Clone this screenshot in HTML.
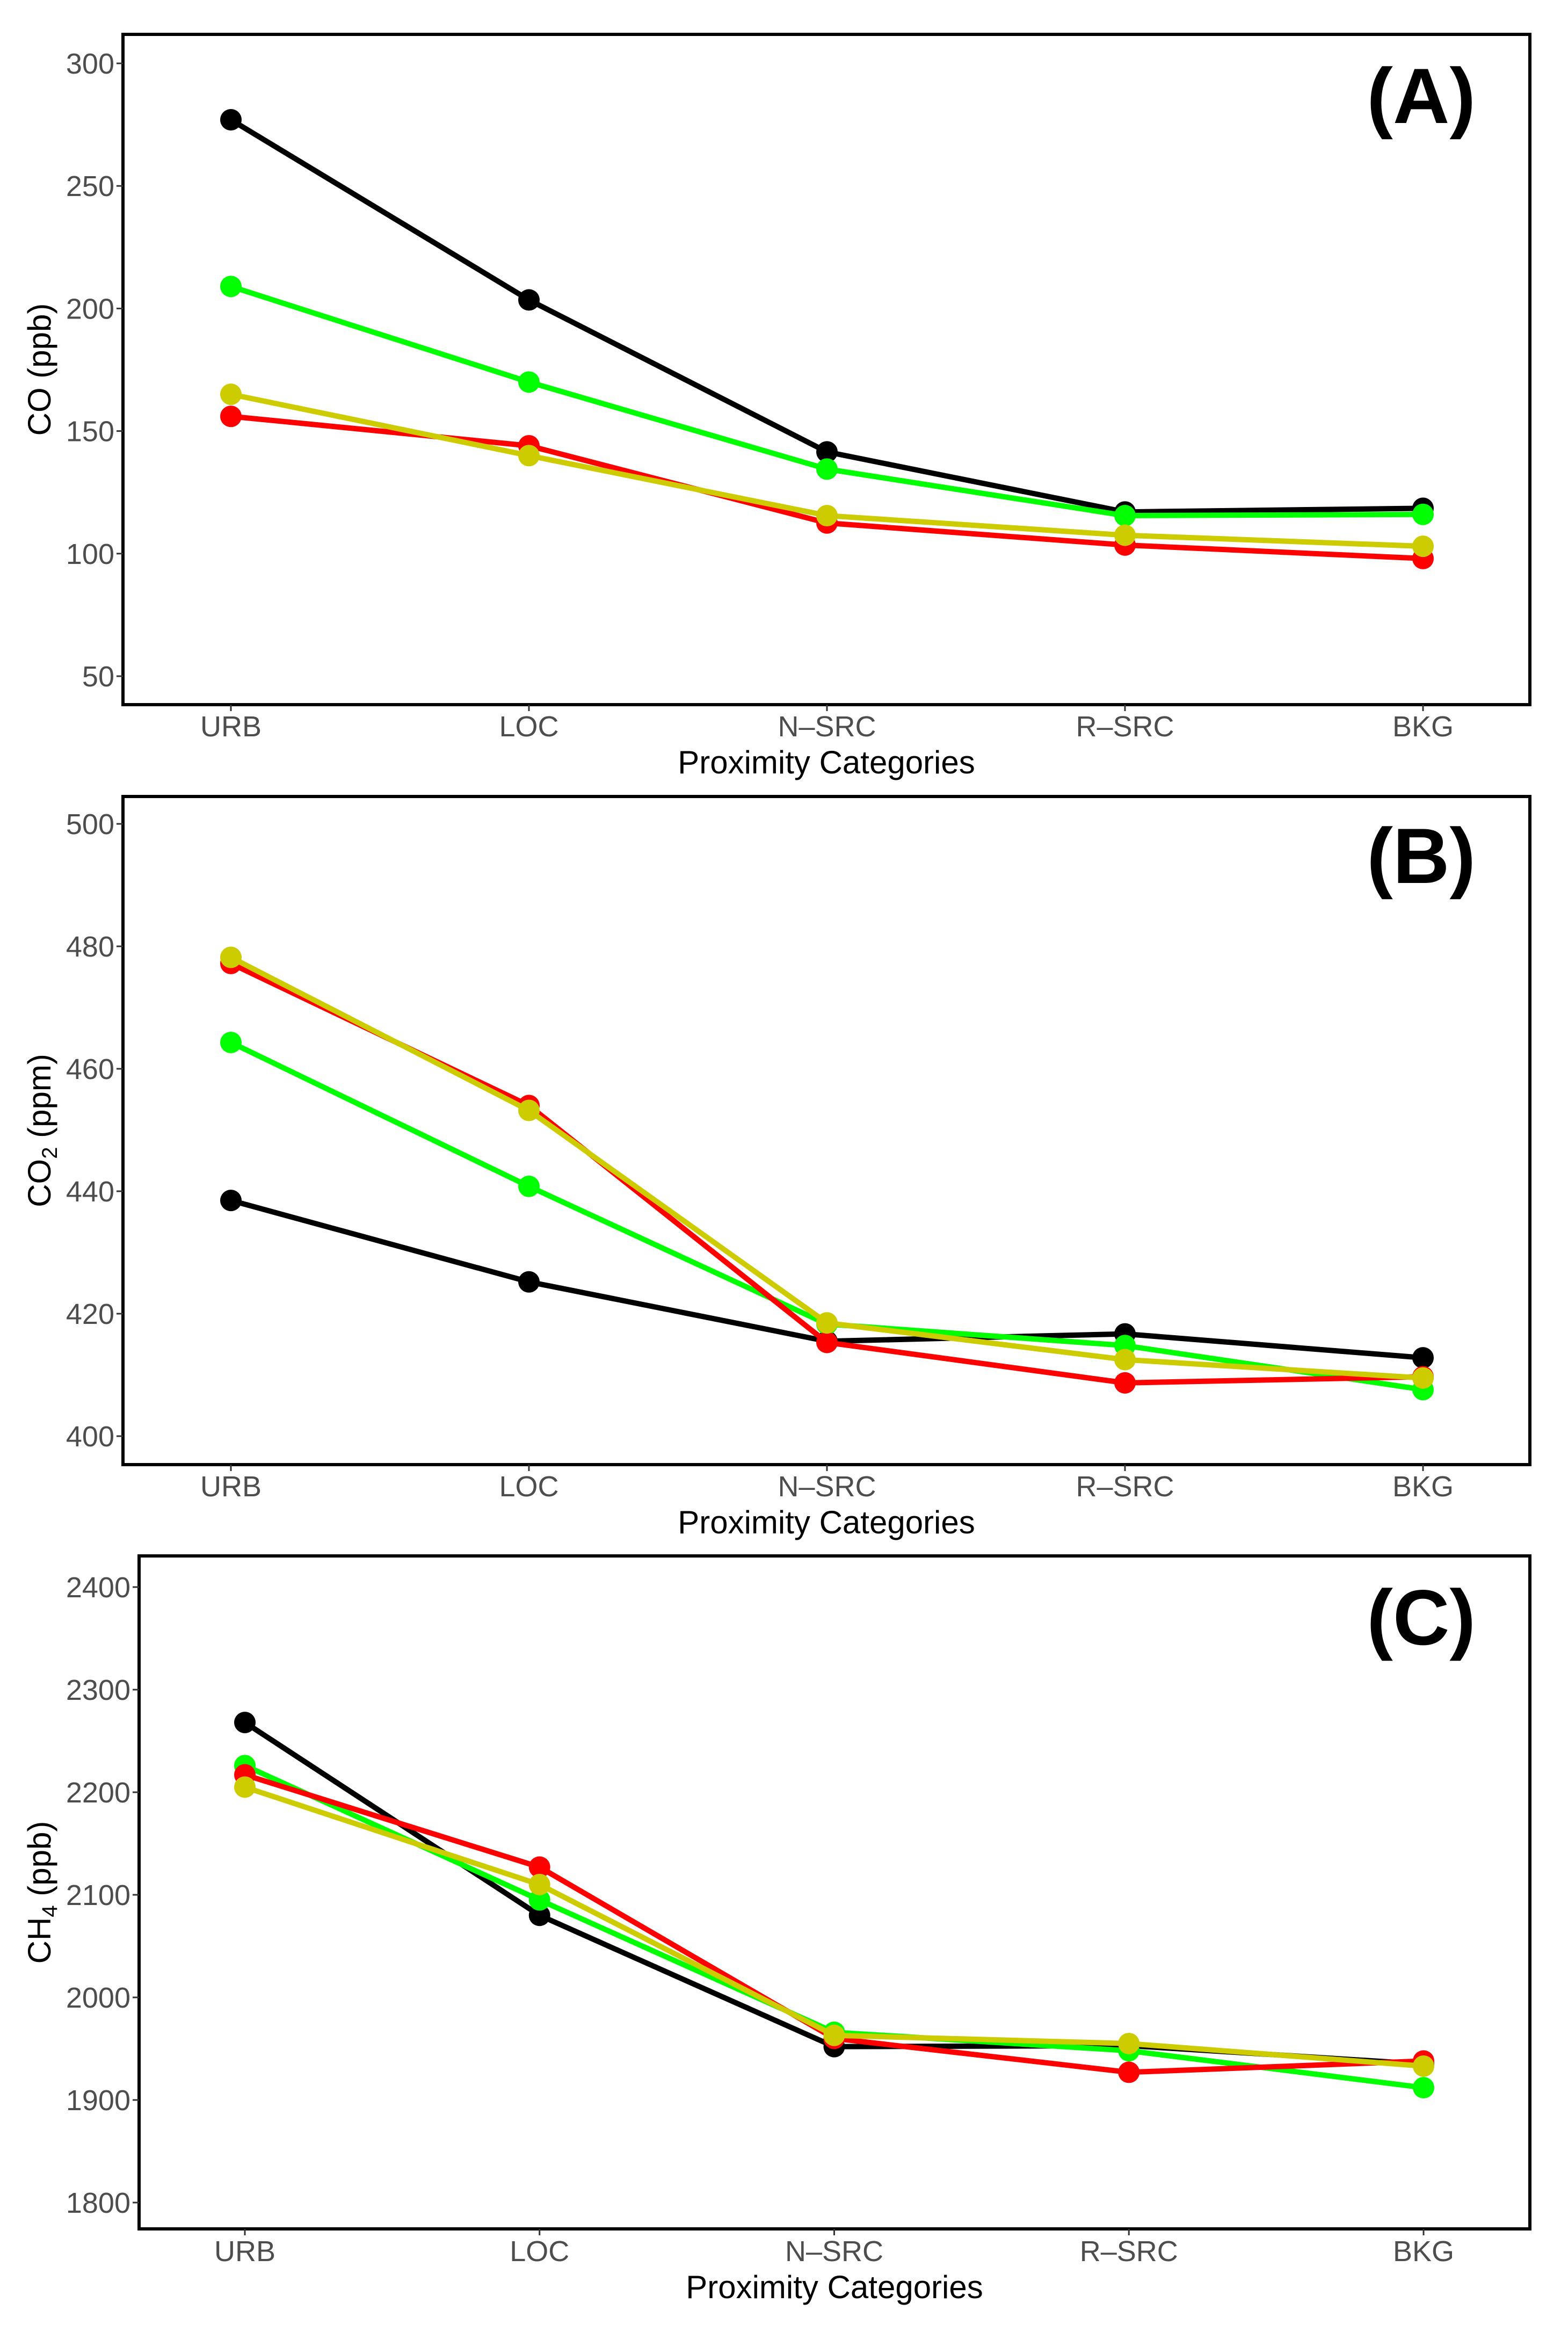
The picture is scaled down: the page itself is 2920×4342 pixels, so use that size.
<!DOCTYPE html>
<html><head><meta charset="utf-8"><style>
html,body{margin:0;padding:0;background:#fff;}
svg{display:block;font-family:"Liberation Sans",Arial,sans-serif;}
</style></head><body>
<svg id="chart" width="2920" height="4342" viewBox="0 0 2920 4342" xmlns="http://www.w3.org/2000/svg"></svg>
<script>
const categories = ["URB","LOC","N–SRC","R–SRC","BKG"];
const seriesColors = ["#000000","#00ff00","#ff0000","#cccc00"];
const seriesNames = ["black","green","red","yellow"];
// Panel A: CO (ppb)
const coBlack = [277,203.5,141.5,117,118.5];
const coGreen = [209,170,134.5,115.5,116];
const coRed = [156,144,112.5,103.5,98];
const coYellow = [165,140,115.5,107.5,103];
const coTicks = [50,100,150,200,250,300];
// Panel B: CO2 (ppm)
const co2Black = [438.5,425.2,415.5,416.7,412.8];
const co2Green = [464.3,440.8,418.3,414.8,407.6];
const co2Red = [477.2,454,415.3,408.7,409.7];
const co2Yellow = [478.2,453.2,418.5,412.5,409.5];
const co2Ticks = [400,420,440,460,480,500];
// Panel C: CH4 (ppb)
const ch4Black = [2268,2080,1952,1953,1935];
const ch4Green = [2226,2095,1966,1948,1912];
const ch4Red = [2217,2127,1960,1927,1938];
const ch4Yellow = [2205,2110,1963,1955,1933];
const ch4Ticks = [1800,1900,2000,2100,2200,2300,2400];

const NS="http://www.w3.org/2000/svg";
const svg=document.getElementById('chart');
function mk(tag,attrs,parent){const e=document.createElementNS(NS,tag);for(const k in attrs)e.setAttribute(k,attrs[k]);(parent||svg).appendChild(e);return e;}

const panels=[
 {id:'a',label:'(A)',left:229,right:2849,top:64,bottom:1312,t0:50,y0:1259,t1:300,y1:118,ticks:coTicks,
  series:[coBlack,coGreen,coRed,coYellow],catX0:430,catX1:2650,xlabY:1352,titleY:1420,lblY:229,yTitle:'CO (ppb)',sub:null},
 {id:'b',label:'(B)',left:229,right:2849,top:1483,bottom:2727,t0:400,y0:2674,t1:500,y1:1534,ticks:co2Ticks,
  series:[co2Black,co2Green,co2Red,co2Yellow],catX0:430,catX1:2650,xlabY:2767,titleY:2835,lblY:1644,yTitle:'CO',sub:'2',unit:' (ppm)'},
 {id:'c',label:'(C)',left:259,right:2849,top:2897,bottom:4150,t0:1800,y0:4101,t1:2400,y1:2955,ticks:ch4Ticks,
  series:[ch4Black,ch4Green,ch4Red,ch4Yellow],catX0:456,catX1:2651,xlabY:4191,titleY:4259,lblY:3062,yTitle:'CH',sub:'4',unit:' (ppb)'}
];

panels.forEach(p=>{
  const g=mk('g',{});
  
  
  const yS=v=>p.y0+(v-p.t0)*(p.y1-p.y0)/(p.t1-p.t0);
  const xS=i=>p.catX0+i*(p.catX1-p.catX0)/(categories.length-1);
  const fr=mk('rect',{x:p.left,y:p.top,width:p.right-p.left,height:p.bottom-p.top,fill:'none',stroke:'#000','stroke-width':6},g);
  
  
  p.ticks.forEach(t=>{
    const y=yS(t);
    mk('line',{x1:p.left-12,x2:p.left,y1:y,y2:y,stroke:'#333','stroke-width':3},g);
    const tx=mk('text',{x:p.left-16,y:y+19,'text-anchor':'end','font-size':54,fill:'#4d4d4d'},g);
    tx.textContent=t;
    
    
  });
  categories.forEach((c,i)=>{
    const x=xS(i);
    mk('line',{x1:x,x2:x,y1:p.bottom,y2:p.bottom+12,stroke:'#333','stroke-width':3},g);
    const tx=mk('text',{x:x,y:p.xlabY+19,'text-anchor':'middle','font-size':54,fill:'#4d4d4d'},g);
    tx.textContent=c;
    
    
  });
  const xt=mk('text',{x:(p.left+p.right)/2,y:p.titleY+20,'text-anchor':'middle','font-size':60,fill:'#000'},g);
  xt.textContent='Proximity Categories';
  
  
  const cy=(p.top+p.bottom)/2;
  const yt=mk('text',{x:0,y:0,'text-anchor':'middle','font-size':60,fill:'#000',transform:`translate(94,${cy}) rotate(-90)`},g);
  
  
  if(p.sub){
    const a=mk('tspan',{},yt);a.textContent=p.yTitle;
    const s=mk('tspan',{'font-size':40,dy:12},yt);s.textContent=p.sub;
    const u=mk('tspan',{dy:-12},yt);u.textContent=p.unit;
  } else yt.textContent=p.yTitle;
  const pl=mk('text',{x:2748,y:p.lblY,'text-anchor':'end','font-size':146,'font-weight':'bold',fill:'#000'},g);
  pl.textContent=p.label;
  
  
  p.series.forEach((vals,si)=>{
    const col=seriesColors[si];
    const pts=vals.map((v,i)=>xS(i)+','+yS(v)).join(' ');
    const ln=mk('polyline',{points:pts,fill:'none',stroke:col,'stroke-width':10,'stroke-linejoin':'round'},g);
    
    
    vals.forEach((v,i)=>{
      const c=mk('circle',{cx:xS(i),cy:yS(v),r:20,fill:col},g);
      
      
    });
  });
});
</script>
</body></html>
